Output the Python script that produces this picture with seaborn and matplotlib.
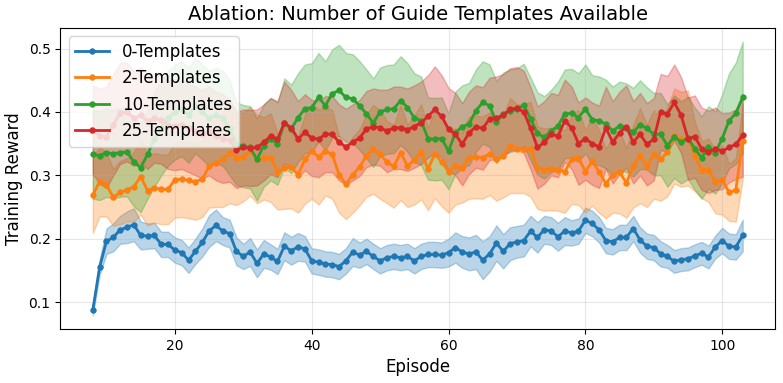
import numpy as np
import pandas as pd
import matplotlib
matplotlib.use('Agg')
import matplotlib.pyplot as plt
import seaborn as sns

# episodes 8..103
episodes = list(range(8, 104))

# mean training reward per setting
reward_0 = [0.087, 0.155, 0.196, 0.202, 0.214, 0.218, 0.222, 0.205, 0.204, 0.205,
            0.191, 0.191, 0.182, 0.178, 0.166, 0.180, 0.194, 0.212, 0.221, 0.212,
            0.208, 0.180, 0.172, 0.179, 0.161, 0.176, 0.171, 0.164, 0.188, 0.181,
            0.187, 0.184, 0.165, 0.163, 0.160, 0.159, 0.156, 0.165, 0.179, 0.174,
            0.180, 0.172, 0.165, 0.170, 0.172, 0.170, 0.172, 0.165, 0.172, 0.175,
            0.175, 0.174, 0.178, 0.186, 0.179, 0.176, 0.179, 0.166, 0.176, 0.193,
            0.180, 0.192, 0.195, 0.197, 0.212, 0.202, 0.214, 0.212, 0.203, 0.212,
            0.209, 0.212, 0.229, 0.224, 0.214, 0.197, 0.195, 0.202, 0.202, 0.216,
            0.198, 0.188, 0.186, 0.176, 0.172, 0.164, 0.167, 0.168, 0.173, 0.177,
            0.171, 0.187, 0.197, 0.188, 0.187, 0.205]
reward_2 = [0.269, 0.290, 0.285, 0.265, 0.273, 0.277, 0.282, 0.298, 0.276, 0.280,
            0.278, 0.278, 0.293, 0.294, 0.292, 0.290, 0.294, 0.314, 0.320, 0.325,
            0.336, 0.328, 0.329, 0.338, 0.326, 0.327, 0.328, 0.306, 0.312, 0.313,
            0.301, 0.325, 0.338, 0.329, 0.338, 0.333, 0.301, 0.286, 0.301, 0.313,
            0.331, 0.341, 0.333, 0.321, 0.314, 0.336, 0.315, 0.324, 0.337, 0.310,
            0.334, 0.321, 0.306, 0.314, 0.312, 0.328, 0.329, 0.328, 0.334, 0.325,
            0.330, 0.347, 0.342, 0.342, 0.341, 0.312, 0.309, 0.310, 0.309, 0.306,
            0.325, 0.328, 0.306, 0.322, 0.306, 0.287, 0.301, 0.305, 0.288, 0.314,
            0.331, 0.315, 0.333, 0.325, 0.337, 0.362, 0.357, 0.359, 0.330, 0.309,
            0.308, 0.290, 0.293, 0.273, 0.277, 0.354]
reward_10 = [0.333, 0.331, 0.336, 0.334, 0.336, 0.337, 0.321, 0.312, 0.333, 0.357,
             0.375, 0.390, 0.400, 0.405, 0.395, 0.410, 0.400, 0.390, 0.395, 0.390,
             0.375, 0.350, 0.346, 0.344, 0.325, 0.347, 0.357, 0.350, 0.383, 0.373,
             0.391, 0.405, 0.407, 0.423, 0.410, 0.429, 0.434, 0.423, 0.421, 0.410,
             0.397, 0.383, 0.400, 0.404, 0.405, 0.418, 0.407, 0.391, 0.386, 0.358,
             0.357, 0.358, 0.338, 0.367, 0.377, 0.381, 0.402, 0.415, 0.410, 0.384,
             0.397, 0.402, 0.404, 0.411, 0.389, 0.366, 0.360, 0.370, 0.378, 0.397,
             0.398, 0.391, 0.405, 0.388, 0.386, 0.381, 0.370, 0.378, 0.375, 0.368,
             0.380, 0.374, 0.365, 0.365, 0.347, 0.361, 0.352, 0.359, 0.342, 0.328,
             0.344, 0.336, 0.358, 0.386, 0.398, 0.423]
reward_25 = [0.372, 0.362, 0.360, 0.380, 0.398, 0.400, 0.390, 0.395, 0.385, 0.390,
             0.388, 0.380, 0.378, 0.380, 0.375, 0.370, 0.365, 0.370, 0.362, 0.358,
             0.355, 0.340, 0.344, 0.343, 0.344, 0.352, 0.362, 0.357, 0.383, 0.375,
             0.357, 0.368, 0.359, 0.357, 0.365, 0.365, 0.352, 0.345, 0.352, 0.359,
             0.373, 0.377, 0.375, 0.370, 0.375, 0.375, 0.372, 0.377, 0.383, 0.393,
             0.404, 0.393, 0.373, 0.365, 0.349, 0.367, 0.377, 0.374, 0.389, 0.391,
             0.395, 0.404, 0.406, 0.400, 0.374, 0.344, 0.352, 0.365, 0.362, 0.386,
             0.375, 0.350, 0.358, 0.350, 0.345, 0.375, 0.352, 0.367, 0.377, 0.352,
             0.365, 0.349, 0.357, 0.400, 0.397, 0.415, 0.395, 0.358, 0.361, 0.342,
             0.337, 0.342, 0.338, 0.344, 0.349, 0.363]

# spread (std) per setting
std_0 = [0.008, 0.012, 0.020, 0.022, 0.022, 0.025, 0.026, 0.022, 0.020, 0.020,
         0.020, 0.020, 0.020, 0.020, 0.020, 0.020, 0.022, 0.025, 0.025, 0.022,
         0.022, 0.022, 0.020, 0.022, 0.022, 0.022, 0.020, 0.020, 0.022, 0.022,
         0.022, 0.020, 0.020, 0.020, 0.020, 0.020, 0.020, 0.020, 0.022, 0.020,
         0.020, 0.020, 0.020, 0.020, 0.020, 0.020, 0.020, 0.020, 0.020, 0.020,
         0.020, 0.020, 0.022, 0.024, 0.025, 0.026, 0.027, 0.030, 0.028, 0.028,
         0.027, 0.026, 0.025, 0.025, 0.024, 0.024, 0.022, 0.022, 0.022, 0.022,
         0.020, 0.020, 0.020, 0.020, 0.020, 0.020, 0.020, 0.020, 0.020, 0.020,
         0.020, 0.020, 0.020, 0.020, 0.018, 0.018, 0.018, 0.018, 0.018, 0.018,
         0.018, 0.018, 0.020, 0.020, 0.020, 0.025]
std_2 = [0.060, 0.055, 0.050, 0.045, 0.050, 0.050, 0.055, 0.060, 0.055, 0.055,
         0.055, 0.055, 0.060, 0.060, 0.060, 0.060, 0.060, 0.065, 0.070, 0.075,
         0.080, 0.075, 0.070, 0.070, 0.070, 0.065, 0.070, 0.060, 0.065, 0.065,
         0.060, 0.070, 0.075, 0.075, 0.070, 0.070, 0.060, 0.055, 0.060, 0.060,
         0.065, 0.070, 0.070, 0.065, 0.065, 0.075, 0.065, 0.070, 0.075, 0.065,
         0.070, 0.070, 0.065, 0.060, 0.055, 0.065, 0.065, 0.065, 0.065, 0.065,
         0.065, 0.075, 0.070, 0.070, 0.075, 0.065, 0.065, 0.065, 0.065, 0.065,
         0.070, 0.075, 0.065, 0.070, 0.065, 0.055, 0.060, 0.065, 0.055, 0.065,
         0.075, 0.065, 0.070, 0.065, 0.070, 0.075, 0.075, 0.075, 0.055, 0.045,
         0.050, 0.050, 0.055, 0.045, 0.050, 0.060]
std_10 = [0.070, 0.070, 0.070, 0.070, 0.070, 0.070, 0.070, 0.070, 0.070, 0.075,
          0.075, 0.075, 0.075, 0.075, 0.075, 0.075, 0.075, 0.075, 0.075, 0.075,
          0.075, 0.065, 0.065, 0.065, 0.065, 0.065, 0.065, 0.065, 0.070, 0.070,
          0.070, 0.070, 0.070, 0.070, 0.070, 0.070, 0.072, 0.070, 0.070, 0.070,
          0.070, 0.070, 0.070, 0.070, 0.070, 0.070, 0.070, 0.070, 0.070, 0.065,
          0.065, 0.065, 0.060, 0.065, 0.065, 0.065, 0.065, 0.065, 0.065, 0.065,
          0.065, 0.065, 0.065, 0.065, 0.065, 0.065, 0.065, 0.065, 0.070, 0.070,
          0.070, 0.070, 0.070, 0.070, 0.070, 0.070, 0.070, 0.070, 0.070, 0.070,
          0.070, 0.065, 0.065, 0.065, 0.065, 0.065, 0.065, 0.065, 0.065, 0.065,
          0.065, 0.065, 0.070, 0.075, 0.080, 0.088]
std_25 = [0.070, 0.075, 0.080, 0.080, 0.080, 0.078, 0.075, 0.075, 0.075, 0.070,
          0.070, 0.070, 0.070, 0.070, 0.070, 0.070, 0.070, 0.070, 0.070, 0.070,
          0.065, 0.060, 0.060, 0.060, 0.060, 0.060, 0.060, 0.060, 0.065, 0.060,
          0.060, 0.060, 0.060, 0.060, 0.060, 0.060, 0.060, 0.060, 0.060, 0.060,
          0.060, 0.060, 0.060, 0.065, 0.065, 0.065, 0.065, 0.065, 0.065, 0.065,
          0.068, 0.065, 0.065, 0.065, 0.065, 0.065, 0.065, 0.065, 0.065, 0.065,
          0.065, 0.065, 0.065, 0.065, 0.065, 0.065, 0.065, 0.065, 0.065, 0.065,
          0.065, 0.065, 0.065, 0.065, 0.065, 0.065, 0.065, 0.065, 0.065, 0.065,
          0.065, 0.065, 0.065, 0.060, 0.060, 0.060, 0.060, 0.065, 0.065, 0.065,
          0.065, 0.065, 0.060, 0.055, 0.055, 0.065]

labels = ['0-Templates', '2-Templates', '10-Templates', '25-Templates']
colours = ['#1f77b4', '#ff7f0e', '#2ca02c', '#d62728']
means = [reward_0, reward_2, reward_10, reward_25]
stds = [std_0, std_2, std_10, std_25]

fig, ax = plt.subplots(figsize=(7.83, 3.83), dpi=100)

for label, colour, mean, std in zip(labels, colours, means, stds):
    df = pd.DataFrame({'Episode': episodes, 'Reward': mean, 'Std': std})
    sns.lineplot(data=df, x='Episode', y='Reward', ax=ax, color=colour, label=label,
                 marker='o', markersize=4, linewidth=2,
                 markeredgecolor=colour, markeredgewidth=0.5)
    ax.fill_between(df['Episode'], df['Reward'] - df['Std'], df['Reward'] + df['Std'],
                    color=colour, alpha=0.3)

ax.set_title('Ablation: Number of Guide Templates Available', fontsize=14)
ax.set_xlabel('Episode', fontsize=12)
ax.set_ylabel('Training Reward', fontsize=12)
ax.set_yticks([0.1, 0.2, 0.3, 0.4, 0.5])
ax.grid(True, alpha=0.3)
ax.legend(loc='upper left', fontsize=12)

fig.subplots_adjust(left=0.077, right=0.99, bottom=0.141, top=0.927)
fig.savefig('out.png', dpi=100)
